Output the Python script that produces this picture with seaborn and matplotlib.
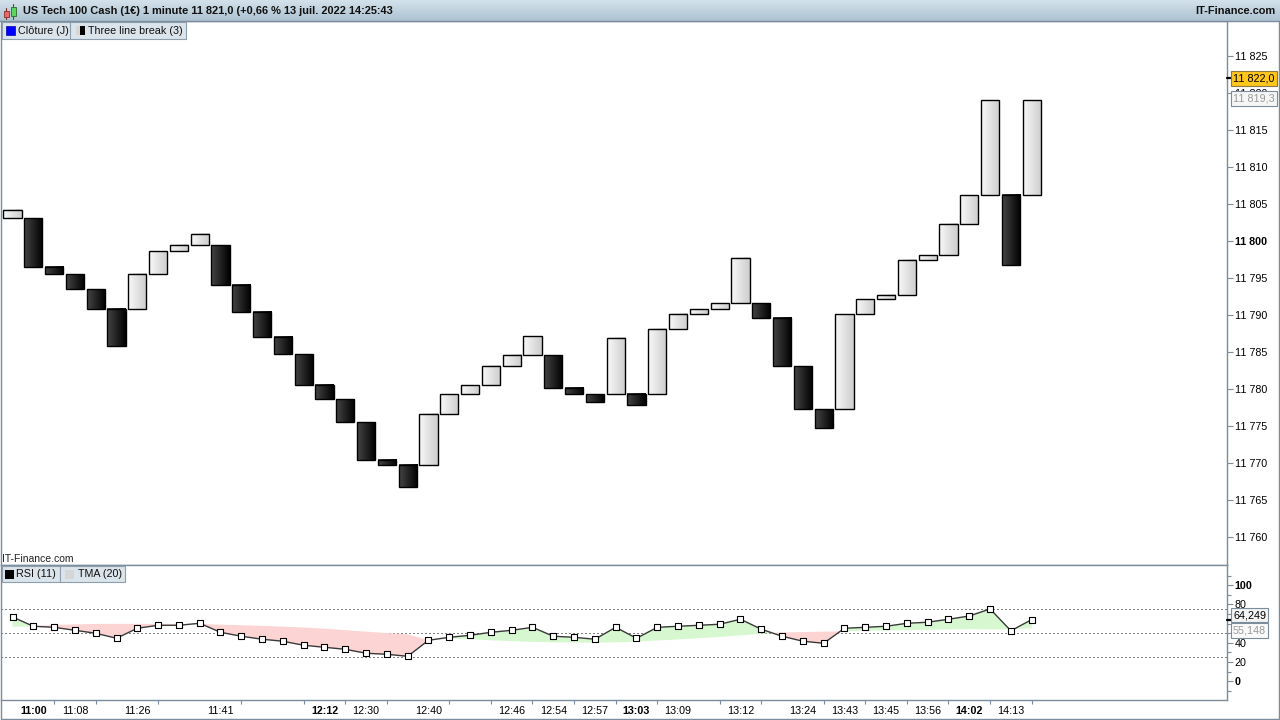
import numpy as np
import pandas as pd
import matplotlib
matplotlib.use("Agg")
import matplotlib.pyplot as plt
import matplotlib.transforms as mtransforms
from matplotlib.colors import LinearSegmentedColormap
from matplotlib.patches import Rectangle
import seaborn as sns

# ---------------- data ----------------
brick_open = [11803.1, 11803.1, 11796.5, 11795.5, 11793.5, 11790.8, 11790.8, 11795.6, 11798.6, 11799.5,
              11799.5, 11794.1, 11790.4, 11787.0, 11784.7, 11780.6, 11778.6, 11775.5, 11770.4, 11769.7,
              11769.7, 11776.6, 11779.3, 11780.5, 11783.1, 11784.6, 11784.6, 11780.2, 11779.3, 11779.3,
              11779.3, 11779.3, 11788.1, 11790.2, 11790.8, 11791.6, 11791.6, 11789.6, 11783.1, 11777.3,
              11777.3, 11790.1, 11792.1, 11792.7, 11797.5, 11798.1, 11802.3, 11806.2, 11806.2, 11806.2]
brick_close = [11804.2, 11796.5, 11795.5, 11793.5, 11790.8, 11785.8, 11795.6, 11798.6, 11799.5, 11801.0,
               11794.1, 11790.4, 11787.0, 11784.7, 11780.6, 11778.6, 11775.5, 11770.4, 11769.7, 11766.7,
               11776.6, 11779.3, 11780.5, 11783.1, 11784.6, 11787.1, 11780.2, 11779.3, 11778.3, 11786.9,
               11777.8, 11788.1, 11790.2, 11790.8, 11791.6, 11797.7, 11789.6, 11783.1, 11777.3, 11774.8,
               11790.1, 11792.1, 11792.7, 11797.5, 11798.1, 11802.3, 11806.2, 11819.0, 11796.7, 11819.0]
rsi_values = [67.0, 57.3, 56.2, 53.1, 50.0, 44.8, 55.2, 58.3, 58.3, 60.4,
              51.0, 46.9, 43.8, 41.7, 37.5, 35.4, 33.3, 29.2, 28.1, 26.0,
              42.7, 45.8, 47.9, 51.0, 53.1, 56.2, 46.9, 45.8, 43.8, 56.2,
              44.8, 56.2, 57.3, 58.3, 59.4, 64.6, 54.2, 46.9, 41.7, 39.6,
              55.2, 56.2, 57.3, 60.4, 61.5, 64.6, 68.0, 75.3, 52.6, 64.249]
tma_values = [56.6, 57.6, 58.6, 59.3, 59.7, 59.8, 59.8, 59.8, 59.7, 59.5,
              59.0, 58.4, 57.7, 56.9, 56.0, 54.8, 53.3, 51.7, 50.2, 48.8,
              43.0, 44.6, 43.8, 42.7, 41.8, 41.0, 40.6, 40.3, 40.2, 40.6,
              41.4, 42.5, 43.6, 44.9, 46.1, 47.8, 49.6, 50.9, 51.3, 51.7,
              52.2, 52.6, 53.0, 53.3, 53.6, 54.0, 54.3, 54.0, 54.3, 55.148]
time_labels = ["11:00", "11:08", "11:26", "11:41", "12:12", "12:30", "12:40", "12:46", "12:54", "12:57",
               "13:03", "13:09", "13:12", "13:24", "13:43", "13:45", "13:56", "14:02", "14:13"]
time_label_pos = [1, 3, 6, 10, 15, 17, 20, 24, 26, 28, 30, 32, 35, 38, 40, 42, 44, 46, 48]
bold_time_labels = ["11:00", "12:12", "13:03", "14:02"]
minor_time_pos = [2, 4, 7, 11, 14, 16, 18, 21, 23, 25, 27, 29, 31, 34, 36, 39, 41, 43, 45, 47, 49]
price_ticks = [11760, 11765, 11770, 11775, 11780, 11785, 11790, 11795, 11800, 11805, 11810, 11815, 11820, 11825]
rsi_ticks = [0, 20, 40, 60, 80, 100]
rsi_hidden_labels = [60]
rsi_minor_ticks = [-10, 10, 30, 50, 70, 90, 110]
rsi_levels = [25, 50, 75]
last_price = 11822.0
prev_price = 11819.3
title_text = "US Tech 100 Cash (1€) 1 minute 11 821,0 (+0,66 % 13 juil. 2022 14:25:43"

# ---------------- style ----------------
sns.set_theme(style="white")
plt.rcParams["font.family"] = ["Liberation Sans", "DejaVu Sans"]
FS = 7.75
AX_C = "#7b8d9d"

W, H = 1280, 720
fig = plt.figure(figsize=(W / 100, H / 100), dpi=100)
fig.patch.set_facecolor("white")


def px_axes(x0, y0, x1, y1, **kw):
    return fig.add_axes([x0 / W, 1 - y1 / H, (x1 - x0) / W, (y1 - y0) / H], **kw)


AX_L, AX_R = 1, 1227
ax = px_axes(AX_L, 21, AX_R, 565)
rax = px_axes(AX_L, 565, AX_R, 700)

n = len(brick_open)
x = np.arange(n)
XLIM = (-0.553, 58.39)
PLIM = (11756.22, 11829.73)
RLIM = (-19.5, 121.1)

# ---------------- bricks ----------------
opens = np.array(brick_open)
closes = np.array(brick_close)
up = closes > opens
cmap_up = LinearSegmentedColormap.from_list("up", ["#f8f8f8", "#cdcdcd"])
cmap_dn = LinearSegmentedColormap.from_list("dn", ["#454545", "#000000"])
bars = ax.bar(x, closes - opens, bottom=opens, width=0.88, facecolor="none",
              edgecolor="black", linewidth=1.0, zorder=3)
grad = np.linspace(0, 1, 64).reshape(1, -1)
for b, u in zip(bars, up):
    x0, w = b.get_x(), b.get_width()
    y0, h = b.get_y(), b.get_height()
    ax.imshow(grad, cmap=cmap_up if u else cmap_dn,
              extent=(x0, x0 + w, min(y0, y0 + h), max(y0, y0 + h)),
              aspect="auto", origin="lower", interpolation="bilinear", zorder=2)
ax.set_xlim(*XLIM)
ax.set_ylim(*PLIM)
ax.set_aspect("auto")
ax.set_facecolor("white")

ax.yaxis.tick_right()
ax.set_yticks(price_ticks)
ax.set_yticklabels([f"{v // 1000} {v % 1000:03d}" for v in price_ticks])
for lab, v in zip(ax.get_yticklabels(), price_ticks):
    if v == 11800:
        lab.set_fontweight("bold")
ax.tick_params(axis="y", which="major", direction="out", length=4, width=0.8, color=AX_C,
               labelsize=FS, pad=1.5, labelcolor="black", right=True, left=False)
ax.tick_params(axis="x", bottom=False, labelbottom=False)
ax.set_xticks([])
for s in ax.spines.values():
    s.set_color(AX_C)
    s.set_linewidth(1.0)
ax.spines["left"].set_visible(False)
ax.set_xlabel("")
ax.set_ylabel("")

# ---------------- RSI panel ----------------
rsi = np.array(rsi_values)
tma = np.array(tma_values)
for v in rsi_levels:
    rax.axhline(v, color="black", lw=0.72, ls=(0, (1, 3)), zorder=1)
rax.fill_between(x, rsi, tma, where=rsi >= tma, interpolate=True, color="#d6f7cf", lw=0, zorder=1.5)
rax.fill_between(x, rsi, tma, where=rsi < tma, interpolate=True, color="#fdd4d4", lw=0, zorder=1.5)
sns.lineplot(x=x, y=rsi, ax=rax, color="#3a3a3a", lw=1.0, zorder=3)
sns.scatterplot(x=x, y=rsi, ax=rax, marker="s", s=16, color="white", edgecolor="black",
                linewidth=0.8, zorder=4)
rax.set_xlim(*XLIM)
rax.set_ylim(*RLIM)
rax.set_facecolor("white")
rax.set_xlabel("")
rax.set_ylabel("")

rax.yaxis.tick_right()
rax.set_yticks(rsi_ticks)
rax.set_yticklabels(["" if v in rsi_hidden_labels else str(v) for v in rsi_ticks])
rax.set_yticks(rsi_minor_ticks, minor=True)
for lab, v in zip(rax.get_yticklabels(), rsi_ticks):
    if v in (0, 100):
        lab.set_fontweight("bold")
        lab.set_fontsize(8.5)
rax.tick_params(axis="y", which="major", direction="out", length=4, width=0.8, color=AX_C,
                labelsize=FS, pad=1.5, labelcolor="black", right=True, left=False)
rax.tick_params(axis="y", which="minor", direction="out", length=3, width=0.8, color=AX_C,
                right=True, left=False)

rax.set_xticks(time_label_pos)
rax.set_xticklabels(time_labels)
rax.set_xticks(minor_time_pos, minor=True)
for lab in rax.get_xticklabels():
    if lab.get_text() in bold_time_labels:
        lab.set_fontweight("bold")
        lab.set_fontsize(8.75)
rax.tick_params(axis="x", which="major", length=0, pad=4.5, labelsize=FS, labelcolor="black", bottom=True)
rax.tick_params(axis="x", which="minor", length=3, width=0.8, color=AX_C, direction="out", bottom=True)
for s in rax.spines.values():
    s.set_color(AX_C)
    s.set_linewidth(1.0)
rax.spines["left"].set_visible(False)

# ---------------- value boxes on axes ----------------
bt = mtransforms.blended_transform_factory(ax.transAxes, ax.transData)
xt = 1.0 + 6 / (AX_R - AX_L)
ax.text(xt, last_price, "11 822,0", transform=bt, ha="left", va="center", fontsize=FS, color="black",
        bbox=dict(boxstyle="square,pad=0.22", fc="#ffc61c", ec="#8a7845", lw=0.8), clip_on=False, zorder=7)
ax.text(xt, prev_price, "11 819,3", transform=bt, ha="left", va="center", fontsize=FS, color="#9a9a9a",
        bbox=dict(boxstyle="square,pad=0.22", fc="#f6f6f6", ec=AX_C, lw=0.8), clip_on=False, zorder=6)
ax.plot([1.0, 1.0 + 5 / (AX_R - AX_L)], [last_price, last_price], transform=bt, color="black",
        lw=1.6, clip_on=False, zorder=6)

rbt = mtransforms.blended_transform_factory(rax.transAxes, rax.transData)
rax.text(xt, rsi_values[-1], "64,249",
         transform=mtransforms.offset_copy(rbt, fig=fig, y=4.5, units="dots"),
         ha="left", va="center", fontsize=FS, color="black",
         bbox=dict(boxstyle="square,pad=0.22", fc="#f3f3f3", ec=AX_C, lw=0.8), clip_on=False, zorder=7)
rax.text(xt, tma_values[-1], "55,148",
         transform=mtransforms.offset_copy(rbt, fig=fig, y=-2.0, units="dots"),
         ha="left", va="center", fontsize=FS, color="#9a9a9a",
         bbox=dict(boxstyle="square,pad=0.22", fc="#fafafa", ec=AX_C, lw=0.8), clip_on=False, zorder=6)
rax.plot([1.0, 1.0 + 5 / (AX_R - AX_L)], [rsi_values[-1], rsi_values[-1]], transform=rbt,
         color="black", lw=1.6, clip_on=False, zorder=6)

# ---------------- decorations (header, legends, frame) ----------------
deco = fig.add_axes([0, 0, 1, 1], zorder=10)
deco.patch.set_alpha(0)
hdr_cmap = LinearSegmentedColormap.from_list("hdr", ["#d3e1eb", "#adc2d1"])
deco.imshow(np.linspace(0, 1, 32).reshape(-1, 1), extent=(0, W, 21, 0), cmap=hdr_cmap,
            aspect="auto", zorder=1)
deco.set_xlim(0, W)
deco.set_ylim(H, 0)
deco.axis("off")
deco.plot([0, W], [21, 21], color=AX_C, lw=1.0, zorder=2)

# header icon (two small candles)
deco.plot([6, 6], [8, 19], color="#7a2a2a", lw=0.8, zorder=3)
deco.add_patch(Rectangle((3.5, 11), 5, 6, fc="#e86a6a", ec="#8a2a2a", lw=0.6, zorder=4))
deco.plot([13.3, 13.3], [3.5, 19], color="#2a6a2a", lw=0.8, zorder=3)
deco.add_patch(Rectangle((10.8, 6.5), 5, 9.5, fc="#5ed65e", ec="#2a6a2a", lw=0.6, zorder=4))
deco.text(23, 11.5, title_text, fontsize=7.95, fontweight="bold", ha="left", va="center",
          color="#111111", zorder=5)
deco.text(1275, 11.5, "IT-Finance.com", fontsize=7.95, fontweight="bold", ha="right", va="center",
          color="#111111", zorder=5)

# price legend boxes
deco.add_patch(Rectangle((1.5, 21.5), 68.5, 17, fc="#dbe4eb", ec="#8d9fae", lw=0.8, zorder=3))
deco.add_patch(Rectangle((6, 26), 9, 9, fc="#0000ff", ec="#0000aa", lw=0.5, zorder=4))
deco.text(18, 30.5, "Clôture (J)", fontsize=FS, ha="left", va="center", color="#111111", zorder=5)
deco.add_patch(Rectangle((70, 21.5), 116, 17, fc="#dbe4eb", ec="#8d9fae", lw=0.8, zorder=3))
deco.add_patch(Rectangle((76, 26), 4, 9, fc="#d6d6d6", ec="none", zorder=4))
deco.add_patch(Rectangle((80, 26), 5, 9, fc="#000000", ec="none", zorder=4))
deco.text(88, 30.5, "Three line break (3)", fontsize=FS, ha="left", va="center", color="#111111", zorder=5)

deco.text(2, 559, "IT-Finance.com", fontsize=7.5, ha="left", va="center", color="#222222", zorder=5)

# RSI legend boxes
deco.add_patch(Rectangle((1.5, 566), 58.5, 16, fc="#dbe4eb", ec="#8d9fae", lw=0.8, zorder=3))
deco.add_patch(Rectangle((5, 570), 9, 8.5, fc="#000000", ec="none", zorder=4))
deco.text(16.5, 574.2, "RSI (11)", fontsize=FS, ha="left", va="center", color="#111111", zorder=5)
deco.add_patch(Rectangle((60, 566), 65, 16, fc="#dbe4eb", ec="#8d9fae", lw=0.8, zorder=3))
deco.add_patch(Rectangle((65, 570), 9, 8.5, fc="#d6d6d6", ec="none", zorder=4))
deco.text(77.5, 574.2, "TMA (20)", fontsize=FS, ha="left", va="center", color="#111111", zorder=5)

# outer frame
deco.plot([0.5, 0.5, 1278.5, 1278.5], [21, 718.5, 718.5, 21], color=AX_C, lw=1.0, zorder=2)

fig.savefig("out.png", dpi=100, facecolor="white")
